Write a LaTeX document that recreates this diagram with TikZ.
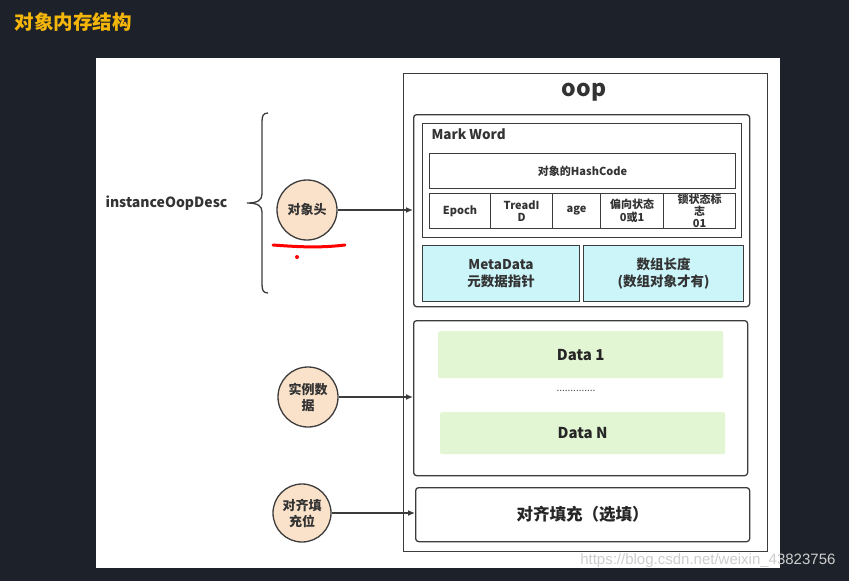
\documentclass[tikz,border=0pt]{standalone}
\usepackage{fontspec}
\setmainfont{Noto Sans CJK SC}
\newfontfamily\wmfont{Liberation Sans}
\usetikzlibrary{arrows.meta}
\definecolor{bgdark}{RGB}{29,33,41}
\definecolor{edge}{RGB}{60,60,60}
\definecolor{titlecol}{RGB}{244,182,10}
\definecolor{peach}{RGB}{250,226,202}
\definecolor{cyanfill}{RGB}{204,245,250}
\definecolor{greenfill}{RGB}{226,246,212}
\definecolor{wm}{RGB}{205,205,205}
\tikzset{
  box/.style={draw=edge, line width=1.3pt, anchor=north west, inner sep=0pt},
  rbox/.style={box, rounded corners=3pt},
  cell/.style={draw=edge, line width=1.1pt, anchor=north west, inner sep=0pt, align=center,
     font=\fontsize{11}{12.5}\selectfont\bfseries, text=black!80},
  cyanbox/.style={draw=edge, line width=1.1pt, fill=cyanfill, anchor=north west, inner sep=0pt, align=center,
     font=\fontsize{13.5}{16.5}\selectfont\bfseries, text=black!80},
  databox/.style={fill=greenfill, rounded corners=2pt, anchor=north west, inner sep=0pt,
     font=\fontsize{15}{17}\selectfont\bfseries, text=black!85},
  circ/.style={circle, draw=edge, line width=1.3pt, fill=peach, minimum size=60pt, inner sep=0pt, align=center,
     font=\fontsize{13}{16}\selectfont\bfseries, text=black!80},
  arr/.style={draw=edge, line width=1.3pt, -{Latex[length=7pt,width=6pt]}},
}
\begin{document}
\begin{tikzpicture}[x=1pt,y=-1pt]
\fill[bgdark] (0,0) rectangle (849,581);
\useasboundingbox (0,0) rectangle (849,581);
\fill[white] (96,58) rectangle (780,568);

\node[anchor=west, text=titlecol, font=\fontsize{19.5}{21}\selectfont\bfseries] (title) at (11,22) {对象内存结构};

% oop outer
\node[box, minimum width=364pt, minimum height=478pt] (oop) at (403,73) {};
\node[font=\fontsize{23}{25}\selectfont\bfseries, text=black!80] (ooplbl) at (584,92) {oop};

% header
\node[rbox, minimum width=336pt, minimum height=192pt] (hdr) at (413,114) {};
\node[box, line width=1.1pt, minimum width=319pt, minimum height=114pt] (mw) at (422,123) {};
\node[anchor=west, font=\fontsize{13.5}{15}\selectfont\bfseries, text=black!80] (mwlbl) at (428,134) {Mark Word};
\node[cell, minimum width=306pt, minimum height=35pt] (hash) at (429,153) {对象的HashCode};
\node[cell, minimum width=61pt, minimum height=35pt] (c1) at (429,193) {Epoch};
\node[cell, minimum width=62pt, minimum height=35pt] (c2) at (490,193) {TreadI\\D};
\node[cell, minimum width=48pt, minimum height=35pt] (c3) at (552,193) {age};
\node[cell, minimum width=63pt, minimum height=35pt] (c4) at (600,193) {偏向状态\\0或1};
\node[cell, minimum width=72pt, minimum height=35pt] (c5) at (663,193) {};
\node[font=\fontsize{11}{12}\selectfont\bfseries, text=black!80, align=center] (c5t) at (c5.center) {锁状态标\\志\\01};
\node[cyanbox, minimum width=157pt, minimum height=56pt] (meta) at (422,245) {MetaData\\元数据指针};
\node[cyanbox, minimum width=160pt, minimum height=56pt] (alen) at (583,245) {数组长度\\(数组对象才有)};

% instance data
\node[rbox, minimum width=334pt, minimum height=155pt] (inst) at (413,320) {};
\node[databox, minimum width=285pt, minimum height=47pt] (d1) at (438,331) {Data 1};
\node[font=\fontsize{10}{10}\selectfont, text=black!70] (dots) at (576,391) {..............};
\node[databox, minimum width=285pt, minimum height=42pt] (dn) at (440,412) {Data N};

% padding
\node[rbox, minimum width=334pt, minimum height=54pt] (pad) at (415,487) {};
\node[font=\fontsize{16.5}{18}\selectfont\bfseries, text=black!85] (padlbl) at (pad.center) {对齐填充（选填）};

% circles
\node[circ] (oh) at (307,210) {对象头};
\node[circ] (idata) at (308,397) {实例数\\据};
\node[circ, minimum size=58pt] (padc) at (302,513) {对齐填\\充位};

\draw[arr] (oh) -- (oh -| hdr.west);
\draw[arr] (idata) -- (idata -| inst.west);
\draw[arr] (padc) -- (padc -| pad.west);

% brace and label
\node[anchor=west, font=\fontsize{14}{16}\selectfont\bfseries, text=black!80] (desc) at (102,203) {instanceOopDesc};
\draw[edge, line width=1.3pt] (268,113) .. controls (263,113) and (262,116) .. (262,122) -- (262,194)
  .. controls (262,200) and (258,203) .. (247,203)
  .. controls (258,203) and (262,206) .. (262,212) -- (262,284)
  .. controls (262,290) and (263,293) .. (268,293);

% red annotation
\draw[red, line width=3pt, line cap=round] (273,245) .. controls (300,247) and (320,248) .. (345,245);
\fill[red] (297,257) circle (2pt);

% watermark
\node[anchor=east, text=wm, font=\wmfont\fontsize{15}{17}\selectfont] (wmk) at (839,561) {https://blog.csdn.net/weixin\_43823756};
\end{tikzpicture}
\end{document}
